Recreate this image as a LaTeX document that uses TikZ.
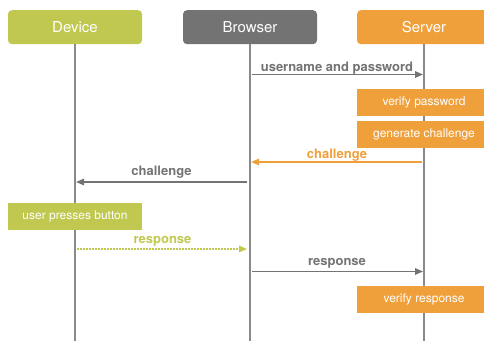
\documentclass[tikz,border=0pt]{standalone}
\usepackage{fontspec}
\setmainfont{TeX Gyre Heros}
\usetikzlibrary{arrows.meta}
\definecolor{dgreen}{HTML}{C0C850}
\definecolor{bgrey}{HTML}{737373}
\definecolor{sorange}{HTML}{F0A03A}
\definecolor{lgrey}{HTML}{8A8A8A}
\begin{document}
\begin{tikzpicture}[x=1pt,y=-1pt,
  header/.style={rounded corners=4pt, minimum width=134pt, minimum height=34pt, text=white, font=\fontsize{15}{18}\selectfont, inner sep=0pt, anchor=north},
  actbox/.style={minimum width=134pt, minimum height=27pt, text=white, font=\fontsize{12}{14}\selectfont, inner sep=0pt},
  life/.style={lgrey, line width=2pt},
  msg/.style={line width=1.5pt, -{Triangle[length=8pt,width=6.5pt]}, shorten >=1pt, shorten <=2pt},
  lbl/.style={font=\bfseries\fontsize{13}{15}\selectfont, anchor=base}]
\useasboundingbox (0,0) rectangle (484,341);
\clip (0,0) rectangle (484,341);
% lifelines
\coordinate (devB) at (75,341);
\coordinate (broB) at (250,341);
\coordinate (serB) at (424,341);
\node[header, fill=dgreen] (dev) at (75,10) {Device};
\node[header, fill=bgrey] (bro) at (250,10) {Browser};
\node[header, fill=sorange] (ser) at (424,10) {Server};
\draw[life] (dev.south) -- (devB);
\draw[life] (bro.south) -- (broB);
\draw[life] (ser.south) -- (serB);
% activity boxes
\node[actbox, fill=sorange] (vp) at (424,102) {verify password};
\node[actbox, fill=sorange] (gc) at (424,134) {generate challenge};
\node[actbox, fill=dgreen] (up) at (75,216) {user presses button};
\node[actbox, fill=sorange] (vr) at (424,299) {verify response};
% message anchor points
\coordinate (b1) at (250,74.5);
\coordinate (s1) at (424,74.5);
\coordinate (s2) at (424,162);
\coordinate (b2) at (250,162);
\coordinate (b3) at (248,182);
\coordinate (d3) at (75,182);
\coordinate (d4) at (75,249);
\coordinate (b4) at (250,249);
\coordinate (b5) at (250,271.5);
\coordinate (s5) at (424,271.5);
% messages
\draw[msg, bgrey] (b1) -- (s1) node[lbl, midway, yshift=3.5pt] (m1) {username and password};
\draw[msg, sorange] (s2) -- (b2) node[lbl, midway, yshift=3.5pt] (m2) {challenge};
\draw[msg, bgrey, shorten <=1pt] (b3) -- (d3) node[lbl, midway, yshift=6.5pt] (m3) {challenge};
\draw[msg, dgreen, dash pattern=on 1.5pt off 1.5pt, shorten >=3pt] (d4) -- (b4) node[lbl, midway, yshift=5.5pt] (m4) {response};
\draw[msg, bgrey] (b5) -- (s5) node[lbl, midway, yshift=6.5pt] (m5) {response};
\end{tikzpicture}
\end{document}
